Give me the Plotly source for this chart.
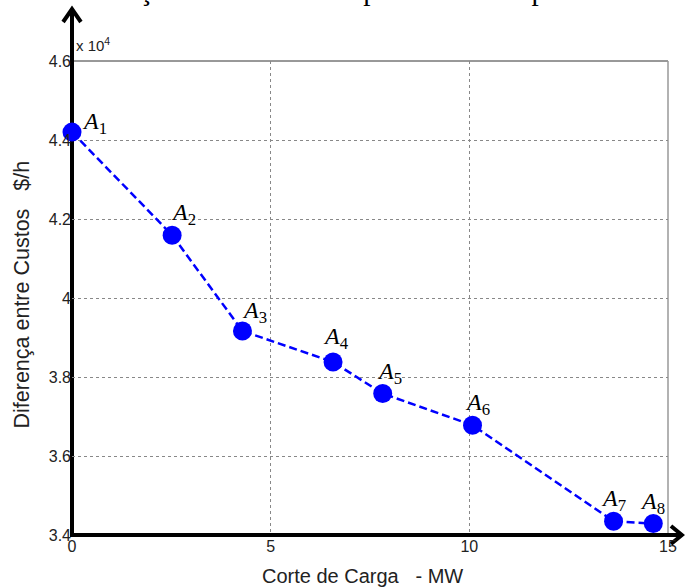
import plotly.graph_objects as go

# Data
corte_carga_mw = [0.0, 2.52, 4.29, 6.57, 7.82, 10.08, 13.63, 14.63]
diferenca_custos = [44200, 41590, 39165, 38380, 37580, 36780, 34350, 34290]
point_labels = ["1", "2", "3", "4", "5", "6", "7", "8"]
x_ticks = [0, 5, 10, 15]
y_tickvals = [34000, 36000, 38000, 40000, 42000, 44000, 46000]
y_ticktext = ["3.4", "3.6", "3.8", "4", "4.2", "4.4", "4.6"]

# label offsets (pixels) relative to each marker
label_dx = [8, -3, -2, -12, -8, -10, -15, -15]
label_dy = [-8, 4, 2, 7, 4, 4, 4, 4]

fig = go.Figure()
fig.add_trace(go.Scatter(
    x=corte_carga_mw, y=diferenca_custos, mode="lines+markers",
    line=dict(color="#0000ff", width=2.5, dash="8px,4px"),
    marker=dict(color="#0000ff", size=19),
    cliponaxis=False, showlegend=False, hoverinfo="skip",
))

annotations = []
for x, y, lab, dx, dy in zip(corte_carga_mw, diferenca_custos, point_labels, label_dx, label_dy):
    annotations.append(dict(
        x=x, y=y, xref="x", yref="y", text=f"<i>A</i><sub>{lab}</sub>",
        showarrow=False, xanchor="left", yanchor="bottom", xshift=dx, yshift=dy,
        font=dict(family="Liberation Serif", size=24, color="black"),
    ))

# axis titles and multiplier
annotations.append(dict(x=(365 - 72) / 602, y=(535 - 576) / 474, xref="paper", yref="paper",
                        text="Corte de Carga\u00a0\u00a0\u00a0- MW", showarrow=False,
                        xanchor="center", yanchor="middle",
                        font=dict(family="Liberation Sans", size=20, color="#222")))
annotations.append(dict(x=(21 - 72) / 602, y=(535 - 295) / 474, xref="paper", yref="paper",
                        text="Diferença entre Custos\u00a0\u00a0\u00a0$/h", showarrow=False, textangle=-90,
                        xanchor="center", yanchor="middle",
                        font=dict(family="Liberation Sans", size=21.5, color="#222")))
annotations.append(dict(x=(74 - 72) / 602, y=(535 - 44) / 474, xref="paper", yref="paper",
                        text="x 10<sup>4</sup>", showarrow=False, xanchor="left", yanchor="middle",
                        font=dict(family="Liberation Sans", size=15, color="#222")))
# cut-off document text at the very top
annotations.append(dict(x=(27 - 72) / 602, y=(535 - 8) / 474, xref="paper", yref="paper",
                        text="vas alterações entre custos a partir da nova previsão de custos",
                        showarrow=False, xanchor="left", yanchor="bottom",
                        font=dict(family="Liberation Serif", size=29, color="black")))

k = 1 / 602
m = 1 / 474
shapes = [
    # top border and right border
    dict(type="line", xref="paper", yref="paper", x0=0, x1=1, y0=1, y1=1,
         line=dict(color="#333", width=1), layer="between"),
    dict(type="line", xref="paper", yref="paper", x0=1, x1=1, y0=0, y1=1,
         line=dict(color="#999", width=1.5), layer="between"),
    # left axis with arrow
    dict(type="line", xref="paper", yref="paper", x0=0, x1=0, y0=-2 * m, y1=(535 - 10) * m,
         line=dict(color="black", width=4), layer="between"),
    dict(type="path", xref="paper", yref="paper",
         path=f"M {-9*k} {(535-22)*m} L 0 {(535-9)*m} L {9*k} {(535-22)*m}",
         line=dict(color="black", width=4), layer="between"),
    # bottom axis with arrow
    dict(type="line", xref="paper", yref="paper", x0=-2 * k, x1=(687 - 72) * k, y0=0, y1=0,
         line=dict(color="black", width=4), layer="between"),
    dict(type="path", xref="paper", yref="paper",
         path=f"M {(677-72)*k} {9*m} L {(688-72)*k} 0 L {(677-72)*k} {-9*m}",
         line=dict(color="black", width=4), layer="between"),
]

fig.update_layout(
    width=689, height=588,
    margin=dict(l=72, r=15, t=61, b=53),
    plot_bgcolor="white", paper_bgcolor="white",
    annotations=annotations, shapes=shapes,
    xaxis=dict(range=[0, 15], tickvals=x_ticks, showgrid=True, gridcolor="#888",
               griddash="dot", gridwidth=1, zeroline=False, showline=False,
               ticks="", ticklen=0,
               tickfont=dict(family="Liberation Sans", size=16, color="#222")),
    yaxis=dict(range=[34000, 46000], tickvals=y_tickvals, ticktext=y_ticktext,
               showgrid=True, gridcolor="#888", griddash="dot", gridwidth=1,
               zeroline=False, showline=False, ticks="",
               tickfont=dict(family="Liberation Sans", size=16, color="#222")),
)

fig.write_html("out.html", config={"displayModeBar": False},
               post_script="document.body.style.margin='0';document.body.style.overflow='hidden';")
